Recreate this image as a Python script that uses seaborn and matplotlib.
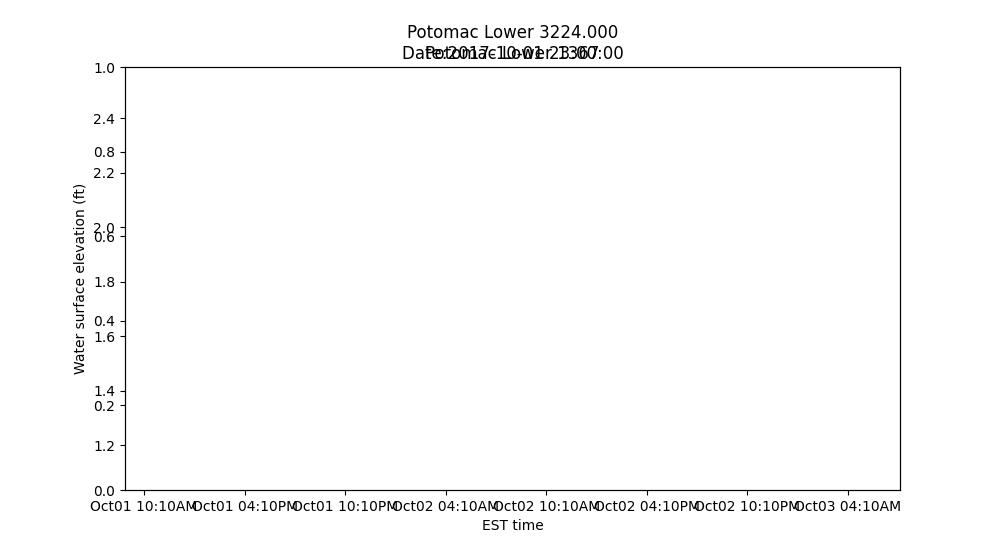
import matplotlib
matplotlib.use('Agg')
import matplotlib.pyplot as plt
import matplotlib.dates as mdates
import pandas as pd
import seaborn as sns

sns.set_style('ticks', {'axes.edgecolor': 'black', 'text.color': 'black',
                        'xtick.color': 'black', 'ytick.color': 'black',
                        'axes.labelcolor': 'black'})
plt.rcParams['font.family'] = ['DejaVu Sans']

station = 'Potomac Lower'
station_value = '3224.000'
overlay_value = '1367'
stamp = '2017-10-01 23:00:00'

# time window and tick marks (every 6 h from 10:10 AM)
x_start = pd.Timestamp('2017-10-01 09:02')
x_end = pd.Timestamp('2017-10-03 07:16')
tick_times = pd.date_range('2017-10-01 10:10', periods=8, freq='6h')

# elevation range of the overlay axes (ft)
elev_lo, elev_hi = 1.035, 2.587

fig = plt.figure(figsize=(10, 5.6), dpi=100)
fig.subplots_adjust(left=0.125, right=0.9, bottom=0.125, top=0.88)
ax = fig.add_subplot(111)
ax.set_title('{} {}\nDate:{}'.format(station, station_value, stamp))
ax.set_ylim(0, 1)

ax2 = ax.twinx()
ax2.yaxis.tick_left()
ax2.set_title('{} {}'.format(station, overlay_value))
ax2.set_ylim(elev_lo, elev_hi)
ax2.set_xlim(x_start, x_end)
ax2.set_xticks(tick_times)
ax2.xaxis.set_major_formatter(mdates.DateFormatter('%b%d %I:%M%p'))

ax.set_xlabel('EST time')
ax.set_ylabel('Water surface elevation (ft)')

fig.savefig('out.png', dpi=100)
